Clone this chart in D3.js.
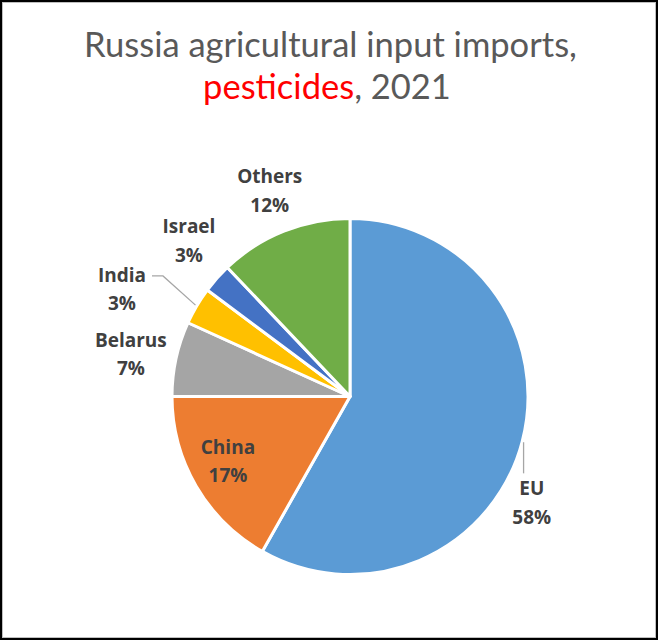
<!DOCTYPE html>
<html>
<head>
<meta charset="utf-8">
<script src="https://cdn.jsdelivr.net/npm/d3@7"></script>
<style>
  html, body { margin: 0; padding: 0; background: #fff; }
  svg { display: block; }
</style>
</head>
<body>
<svg id="chart" width="659" height="641"></svg>
<script>
// ---- data ----
const categories = ["EU", "China", "Belarus", "India", "Israel", "Others"];
const values = [58.2, 16.8, 6.8, 3.4, 2.7, 12.1];
const percentLabels = ["58%", "17%", "7%", "3%", "3%", "12%"];
const colors = ["#5B9BD5", "#ED7D31", "#A5A5A5", "#FFC000", "#4472C4", "#70AD47"];
const titleLine1 = "Russia agricultural input imports,";
const titleLine2a = "pesticides";
const titleLine2b = ", 2021";

// ---- layout (separate from data) ----
const W = 659, H = 641;
const cx = 350, cy = 396.5, R = 178;
// label anchors: distance from centre (px) and angle (deg, clockwise from 12 o'clock)
const labelAnchors = [
  {r: 211, a: 120.5, leader: "vertical"},
  {r: 138.5, a: 241.8},
  {r: 223, a: 280.7},
  {r: 251.6, a: 295, leader: "elbow"},
  {r: 223.5, a: 313.9},
  {r: 220, a: 338.6}
];
const FONT = "Lato, 'Open Sans', 'Liberation Sans', sans-serif";
const LFONT = "'Open Sans', 'Noto Sans', 'Liberation Sans', sans-serif";

const svg = d3.select("#chart");

// border
svg.append("rect").attr("x", 1).attr("y", 1).attr("width", 656).attr("height", 638)
  .attr("fill", "#fff").attr("stroke", "#000").attr("stroke-width", 2);
svg.append("rect").attr("x", 2.5).attr("y", 2.5).attr("width", 653).attr("height", 635)
  .attr("fill", "none").attr("stroke", "#bfbfbf").attr("stroke-width", 1);

// title
function fitFont(sel, target) {
  const len = sel.node().getComputedTextLength();
  const fs = parseFloat(sel.attr("font-size"));
  sel.attr("font-size", fs * target / len);
  return fs * target / len;
}
const t1 = svg.append("text").attr("x", 330.5).attr("y", 57)
  .attr("text-anchor", "middle").attr("font-family", FONT).attr("font-size", 30)
  .attr("fill", "#595959").text(titleLine1);
fitFont(t1, 493);
const t2 = svg.append("text").attr("x", 327).attr("y", 99)
  .attr("text-anchor", "middle").attr("font-family", FONT)
  .attr("font-size", t1.attr("font-size")).attr("fill", "#595959");
t2.append("tspan").attr("fill", "#FF0000").text(titleLine2a);
t2.append("tspan").text(titleLine2b);

// measure label font size so "Others" is ~67px wide
const probe = svg.append("text").attr("font-family", LFONT).attr("font-weight", "bold")
  .attr("font-size", 18).text(categories[5]);
const labelFs = Math.min(19, fitFont(probe, 67));
probe.remove();

// pie
const pie = d3.pie().sort(null).value(d => d.v);
const data = categories.map((c, i) => ({c, v: values[i], p: percentLabels[i], col: colors[i], anchor: labelAnchors[i]}));
const arcs = pie(data);
const arc = d3.arc().innerRadius(0).outerRadius(R);

const g = svg.append("g").attr("transform", `translate(${cx},${cy})`);
g.selectAll("path.slice").data(arcs).join("path")
  .attr("class", "slice")
  .attr("d", arc)
  .attr("fill", d => d.data.col)
  .attr("stroke", "#fff")
  .attr("stroke-width", 3)
  .attr("stroke-linejoin", "round");

const polar = (r, deg) => {
  const a = deg * Math.PI / 180;
  return [r * Math.sin(a), -r * Math.cos(a)];
};

// labels
const lineGap = 28.5;
const labels = g.selectAll("g.lbl").data(arcs).join("g").attr("class", "lbl");
labels.each(function(d) {
  const [x, y] = polar(d.data.anchor.r, d.data.anchor.a);
  const sel = d3.select(this);
  const txt = sel.append("text")
    .attr("text-anchor", "middle")
    .attr("font-family", LFONT)
    .attr("font-weight", "bold")
    .attr("font-size", labelFs)
    .attr("fill", "#404040");
  txt.append("tspan").attr("x", x).attr("y", y - lineGap / 2 + 6).text(d.data.c);
  txt.append("tspan").attr("x", x).attr("y", y + lineGap / 2 + 6).text(d.data.p);
  d.lx = x; d.ly = y;
});

// leader lines
arcs.forEach(d => {
  const mid = (d.startAngle + d.endAngle) / 2 * 180 / Math.PI;
  const [ex, ey] = polar(R + 1.5, mid);
  if (d.data.anchor.leader === "vertical") {
    g.append("path").attr("d", `M${ex},${ey}V${d.ly - lineGap / 2 - 16}`)
      .attr("stroke", "#a6a6a6").attr("stroke-width", 1.3).attr("fill", "none");
  } else if (d.data.anchor.leader === "elbow") {
    const w = 50;
    const endX = d.lx + w / 2 + 5;
    const yy = d.ly - lineGap / 2 + 0;
    g.append("path").attr("d", `M${ex},${ey}L${endX + 11},${yy}H${endX}`)
      .attr("stroke", "#a6a6a6").attr("stroke-width", 1.3).attr("fill", "none");
  }
});
</script>
</body>
</html>
